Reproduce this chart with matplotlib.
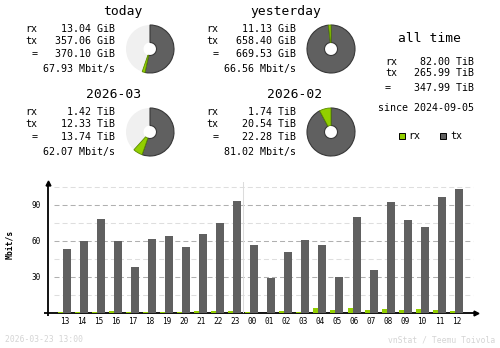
import matplotlib
matplotlib.use("Agg")
import matplotlib.pyplot as plt
from matplotlib.patches import Wedge, Rectangle
import numpy as np

RX, TX, PIEBG, EDGE = "#92cf00", "#606060", "#f0f0f0", "#383838"
GRID_D, GRID_L, FOOT = "#b0b0b0", "#dedede", "#d4d4d4"
MONO = "DejaVu Sans Mono"

# --- summary blocks ---
blocks = ["today", "yesterday", "2026-03", "2026-02"]
units = ["GiB", "GiB", "TiB", "TiB"]
rx_vals = [13.04, 11.13, 1.42, 1.74]
tx_vals = [357.06, 658.40, 12.33, 20.54]
tot_vals = [370.10, 669.53, 13.74, 22.28]
rates = [67.93, 66.56, 62.07, 81.02]

alltime_rx, alltime_tx, alltime_tot = 82.00, 265.99, 347.99
since = "2024-09-05"

# --- hourly chart ---
hours = ["13", "14", "15", "16", "17", "18", "19", "20", "21", "22", "23",
         "00", "01", "02", "03", "04", "05", "06", "07", "08", "09", "10", "11", "12"]
hour_tx = [53.6, 60.3, 78.6, 59.7, 38.6, 61.9, 64.4, 55.3, 66.1, 75.3, 93.6,
           56.9, 29.4, 51.1, 61.1, 56.9, 30.3, 80.3, 36.1, 92.8, 77.8, 71.9, 96.9, 103.6]
hour_rx = [1.1, 1.0, 1.0, 1.9, 1.0, 1.0, 1.0, 1.0, 1.9, 1.9, 1.9,
           1.0, 0.2, 1.9, 1.0, 4.4, 2.8, 4.4, 2.8, 3.6, 2.8, 3.6, 2.8, 1.9]
yticks = [30, 60, 90]

W, H = 500, 348
fig = plt.figure(figsize=(W / 100, H / 100), dpi=100, facecolor="white")
base = fig.add_axes([0, 0, 1, 1])
base.set_xlim(0, W)
base.set_ylim(H, 0)
base.axis("off")

body = dict(family=MONO, fontsize=7.2, va="center", color="black")

# block layout: (dx, dy) offsets in pixels, title centre x
offsets = [(0, 0), (181, 0), (0, 83), (181, 83)]
title_x = [122.5, 286, 114, 295]

for i, name in enumerate(blocks):
    dx, dy = offsets[i]
    base.text(title_x[i], 11.5 + dy, name, family=MONO, fontsize=9.4,
              ha="center", va="center")
    base.text(25 + dx, 29 + dy, "rx", ha="left", **body)
    base.text(25 + dx, 41 + dy, "tx", ha="left", **body)
    base.text(34.5 + dx, 54 + dy, "=", ha="center", **body)
    base.text(115 + dx, 29 + dy, f"{rx_vals[i]:.2f} {units[i]}", ha="right", **body)
    base.text(115 + dx, 41 + dy, f"{tx_vals[i]:.2f} {units[i]}", ha="right", **body)
    base.text(115 + dx, 54 + dy, f"{tot_vals[i]:.2f} {units[i]}", ha="right", **body)
    base.text(115 + dx, 69 + dy, f"{rates[i]:.2f} Mbit/s", ha="right", **body)

    # pie relative to the larger of the pair (today/yesterday, month/prev month)
    pair = tot_vals[(i // 2) * 2:(i // 2) * 2 + 2]
    ref = max(pair)
    ftx = tx_vals[i] / ref
    frx = rx_vals[i] / ref
    cx, cy, r, hole = 150 + dx, 49 + dy, 24, 6.5
    base.add_patch(Wedge((cx, cy), r, 0, 360, width=r - hole, facecolor=PIEBG,
                         edgecolor="none"))
    a0 = 270
    a1 = a0 + 360 * ftx
    a2 = a1 + 360 * frx
    base.add_patch(Wedge((cx, cy), r, a0, a1, width=r - hole, facecolor=TX,
                         edgecolor=EDGE, linewidth=0.8))
    base.add_patch(Wedge((cx, cy), r, a1, a2, width=r - hole, facecolor=RX,
                         edgecolor="#5a8a00", linewidth=0.6))

# all time
base.text(429, 39, "all time", family=MONO, fontsize=9.4, ha="center", va="center")
base.text(385, 62, "rx", ha="left", **body)
base.text(385, 73, "tx", ha="left", **body)
base.text(388, 88, "=", ha="center", **body)
base.text(474, 62, f"{alltime_rx:.2f} TiB", ha="right", **body)
base.text(474, 73, f"{alltime_tx:.2f} TiB", ha="right", **body)
base.text(474, 88, f"{alltime_tot:.2f} TiB", ha="right", **body)
base.text(426.5, 108, f"since {since}", ha="center", **body)

# legend
base.add_patch(Rectangle((399, 133), 6, 6, facecolor=RX, edgecolor="black", linewidth=0.7))
base.text(408, 136, "rx", ha="left", **body)
base.add_patch(Rectangle((440, 133), 6, 6, facecolor=TX, edgecolor="black", linewidth=0.7))
base.text(450, 136, "tx", ha="left", **body)

# footer
base.text(5, 340, "2026-03-23 13:00", family=MONO, fontsize=5.8, color=FOOT,
          ha="left", va="center")
base.text(495, 340, "vnStat / Teemu Toivola", family=MONO, fontsize=5.8, color=FOOT,
          ha="right", va="center")

# --- bar chart ---
L, R, B, T = 48, 477, 313, 182
ax = fig.add_axes([L / W, (H - B) / H, (R - L) / W, (B - T) / H])
ax.set_facecolor("none")
step = 17.03
x0 = 64.5
ax.set_xlim((L - x0) / step, (R - x0) / step)
ax.set_ylim(0, (B - T) / 1.2)
x = np.arange(len(hours))

plt.rcParams["lines.scale_dashes"] = False
gx0, gx1 = (54 - x0) / step, (473 - x0) / step
for g in range(15, 106, 15):
    ax.hlines(g, gx0, gx1, colors=GRID_D if g % 30 == 0 else GRID_L,
              linewidth=0.75, linestyles=(0, (3.6, 2.2)), zorder=1)
ax.axvline(10.5, color="#dcdcdc", linewidth=0.75, zorder=1)

ax.bar(x - 4 / step, hour_rx, width=5 / step, color=RX, zorder=3)
ax.bar(x + 2.5 / step, hour_tx, width=8 / step, color=TX, zorder=3)

ax.set_xticks(x)
ax.set_xticklabels(hours, family=MONO, fontsize=5.6)
ax.set_yticks(yticks)
ax.set_yticklabels([str(v) for v in yticks], family=MONO, fontsize=5.6)
ax.tick_params(length=0, pad=3)
ax.tick_params(axis="y", pad=5)
for s in ax.spines.values():
    s.set_visible(False)
ax.set_ylabel("Mbit/s", family=MONO, fontsize=5.8, fontweight="bold")
ax.yaxis.set_label_coords(-0.079, 0.527)

# axis lines with arrows
base.plot([L, L], [T + 2, B + 3], color="black", linewidth=1.3, solid_capstyle="butt")
base.plot([L - 4, R - 2], [B, B], color="black", linewidth=1.3, solid_capstyle="butt")
base.plot([L], [T + 1], marker="^", markersize=3.5, color="black")
base.plot([R - 1], [B], marker=">", markersize=3.5, color="black")

fig.savefig("out.png", dpi=100, facecolor="white")
